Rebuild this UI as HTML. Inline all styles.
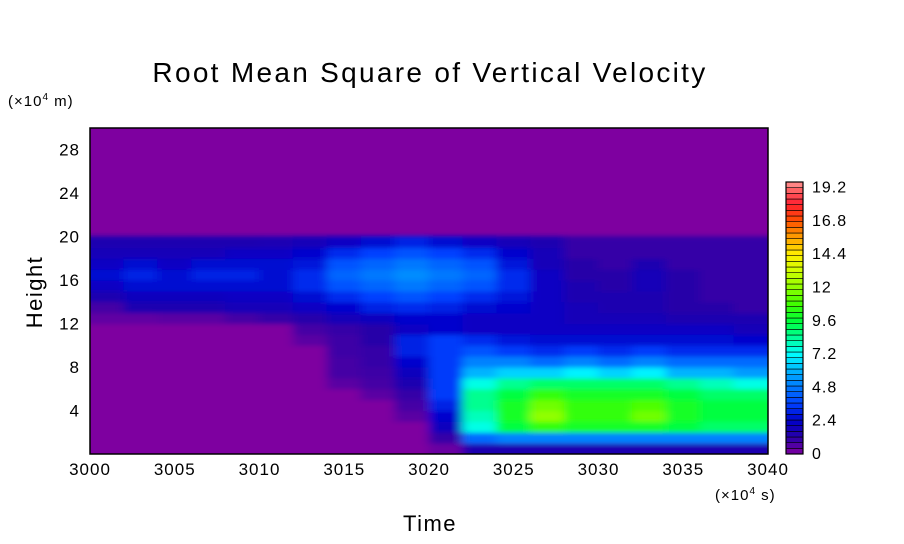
<!DOCTYPE html>
<html><head><meta charset="utf-8"><style>
html,body{margin:0;padding:0;background:#fff;}
svg{display:block;font-family:"Liberation Sans",sans-serif;}
</style></head><body>
<svg id="chart" width="904" height="544" viewBox="0 0 904 544" xmlns="http://www.w3.org/2000/svg">
<defs>
<clipPath id="pc"><rect x="90" y="128" width="678" height="326"/></clipPath>
<filter id="bl" x="-0.05" y="-0.05" width="1.1" height="1.1"><feGaussianBlur stdDeviation="5 2.5"/></filter>
</defs>
<text x="430" y="82" font-size="28" letter-spacing="2.3" text-anchor="middle">Root Mean Square of Vertical Velocity</text>
<text x="8" y="106" font-size="15" letter-spacing="1">(×10<tspan font-size="10" dy="-6">4</tspan><tspan dy="6"> m)</tspan></text>
<text x="715" y="500" font-size="15" letter-spacing="1">(×10<tspan font-size="10" dy="-6">4</tspan><tspan dy="6"> s)</tspan></text>
<text transform="translate(42,292) rotate(-90)" font-size="22" letter-spacing="1.5" text-anchor="middle">Height</text>
<text x="430" y="531" font-size="22" letter-spacing="1.5" text-anchor="middle">Time</text>
<rect x="90" y="128" width="678" height="326" fill="#7e00a0"/>
<g id="cells" clip-path="url(#pc)"><g id="cellsInner" filter="url(#bl)"></g></g>
<rect x="90" y="128" width="678" height="326" fill="none" stroke="#000" stroke-width="1.5"/>
<g id="xticks"></g><g id="yticks"></g><g id="cbar"></g>
</svg>
<script>
const timeStart = [3000,3002,3004,3006,3008,3010,3012,3014,3016,3018,3020,3022,3024,3026,3028,3030,3032,3034,3036,3038];
const heightBottom = [0,1,2,3,4,5,6,7,8,9,10,11,12,13,14,15,16,17,18,19];
const rmsValues = [
[0,0,0,0,0,0,0,0,0,0,0.3,1.5,1.5,1.5,1.5,1.5,1.5,1.5,1.5,1.5],
[0,0,0,0,0,0,0,0,0,0,1,4.5,5,5,5,5,5,5,5,5],
[0,0,0,0,0,0,0,0,0,0,2,7.5,9.5,10.5,10,10,10,9.5,9,9],
[0,0,0,0,0,0,0,0,0,0.5,2.5,8,10,12,10.5,10.5,11.5,10,9.5,9.5],
[0,0,0,0,0,0,0,0,0,0.8,3,8.5,10,11.5,10.5,10.5,11,10,9.5,9.5],
[0,0,0,0,0,0,0,0,0.5,1,3.5,8.5,9.5,10.5,10,10,10,9.5,9,9],
[0,0,0,0,0,0,0,0.5,0.8,1.5,3.5,7.5,8.5,9,9,9,9,8.5,8,7.5],
[0,0,0,0,0,0,0,0.8,0.9,2,3.5,6,6.5,6.5,7,6.5,7,6,6,5.5],
[0,0,0,0,0,0,0,0.8,1,2.5,3.5,5,5,4.5,5,4.5,5,4.5,4.5,4.5],
[0,0,0,0,0,0,0,0.9,1,3,3.5,4,3.5,3.2,3.5,3.2,3.5,3.2,3.2,3.2],
[0,0,0,0,0,0,0.5,0.9,1.2,3,3.5,3.2,2.8,2.6,2.6,2.6,2.6,2.6,2.6,2.5],
[0,0,0,0,0,0,0.8,1,1.2,2.2,2.5,2.2,2.2,2.2,2.2,2.2,2.2,2.2,2.2,1.8],
[0.4,0.4,0.5,0.5,0.8,1,1.3,1.8,2,2.5,2.5,2.2,2.2,2.2,1.8,1.8,1.8,1.5,1.5,1.5],
[0.8,1.5,1.5,1.5,1.8,1.8,2.2,2.5,3,3.2,3,2.6,2.5,2.2,1.8,1.5,1.5,1.2,1.2,1],
[1.5,2,2,2,2.2,2.2,2.6,3.2,3.6,4,3.6,3.2,2.8,2.2,1.5,1.5,1.5,1.2,1,1],
[2.2,2.6,2.6,2.6,2.6,2.6,3.2,4,4.4,4.8,4.4,4,3.2,2.2,1.5,1.2,1.8,1.2,1,1],
[2.6,3,2.6,3,3,2.6,3.2,4.4,4.8,5.2,4.8,4.4,3.2,2.2,1.2,1.2,1.8,1.2,1,1],
[2.2,2.6,2.2,2.6,2.6,2.6,2.8,4,4.4,4.8,4.4,4,2.8,1.8,1.2,1,1.5,1,1,1],
[1.8,1.8,1.8,1.8,2.2,2.2,2.5,3.2,3.6,4,3.6,3.2,2.5,1.8,1,1,1,1,1,1],
[1.5,1.5,1.5,1.5,1.5,1.6,1.8,2.2,2.6,3,2.6,2.2,1.8,1.5,1,1,1,1,1,1]
];
const xTickLabels = [3000,3005,3010,3015,3020,3025,3030,3035,3040];
const yTickLabels = [4,8,12,16,20,24,28];
const cbarLabels = ["0","2.4","4.8","7.2","9.6","12","14.4","16.8","19.2"];
const cbarValues = [0,2.4,4.8,7.2,9.6,12,14.4,16.8,19.2];

const stopV = [0,1.2,2.4,3.6,4.8,6,7.2,8.4,9.6,10.8,12,13.2,14.4,15.6,16.8,18,19.2,19.6];
const stopC = ["#7e00a0","#2800a8","#0000c8","#0040ff","#0078ff","#00b4ff","#00ffff","#00ff98","#00ff38","#40ff00","#90ff00","#d0ff00","#ffee00","#ffa000","#ff5000","#ff2030","#ff7070","#ff9a9a"];
function hex(c){return [1,3,5].map(i=>parseInt(c.substr(i,2),16));}
function cmap(v){
  if(v<=0) return stopC[0];
  for(let i=0;i<stopV.length-1;i++){
    if(v<=stopV[i+1]){const t=(v-stopV[i])/(stopV[i+1]-stopV[i]);const a=hex(stopC[i]),b=hex(stopC[i+1]);
      return "rgb("+a.map((x,k)=>Math.round(x+(b[k]-x)*t)).join(",")+")";}
  }
  return stopC[stopC.length-1];
}
const X0=90,X1=768,Y0=454,Y1=128;
const xs=t=>X0+(t-3000)/40*(X1-X0);
const ys=h=>Y0-h/30*(Y0-Y1);
const NS="http://www.w3.org/2000/svg";
function mk(tag,attrs,parent){const e=document.createElementNS(NS,tag);for(const k in attrs)e.setAttribute(k,attrs[k]);parent.appendChild(e);return e;}
const inner=document.getElementById('cellsInner');
rmsValues.forEach((row,ri)=>{row.forEach((v,ci)=>{
  let x=xs(timeStart[ci]), w=xs(timeStart[ci]+2)-x;
  let y=ys(heightBottom[ri]+1), h=ys(heightBottom[ri])-y;
  if(ci===0){x-=10;w+=10;} if(ci===row.length-1){w+=10;}
  if(ri===0){h+=8;}
  const r=mk('rect',{x:x-0.5,y:y-0.5,width:w+1,height:h+1,fill:cmap(v)},inner);
  
  
});});
const xt=document.getElementById('xticks');
xTickLabels.forEach(t=>{
  const e=mk('text',{x:xs(t),y:475,'font-size':17,'letter-spacing':1,'text-anchor':'middle'},xt);e.textContent=t;
  
  
});
const yt=document.getElementById('yticks');
yTickLabels.forEach(h=>{
  const e=mk('text',{x:80,y:ys(h)+6,'font-size':17,'letter-spacing':1,'text-anchor':'end'},yt);e.textContent=h;
  
  
});
const cb=document.getElementById('cbar');
const CB0=454,CB1=182,nLev=48;
for(let i=0;i<nLev;i++){
  const v0=i*19.6/nLev, y=CB0-(i+1)*(CB0-CB1)/nLev;
  const r=mk('rect',{x:786,y:y,width:17,height:(CB0-CB1)/nLev,fill:cmap(v0+0.2),stroke:'#000','stroke-width':0.6},cb);
  
  
}
const fr=mk('rect',{x:786,y:CB1,width:17,height:CB0-CB1,fill:'none',stroke:'#000','stroke-width':1.2},cb);


cbarValues.forEach((v,i)=>{
  const e=mk('text',{x:812,y:CB0-v/19.6*(CB0-CB1)+5,'font-size':16,'letter-spacing':1},cb);e.textContent=cbarLabels[i];
  
  
});
</script>
</body></html>
